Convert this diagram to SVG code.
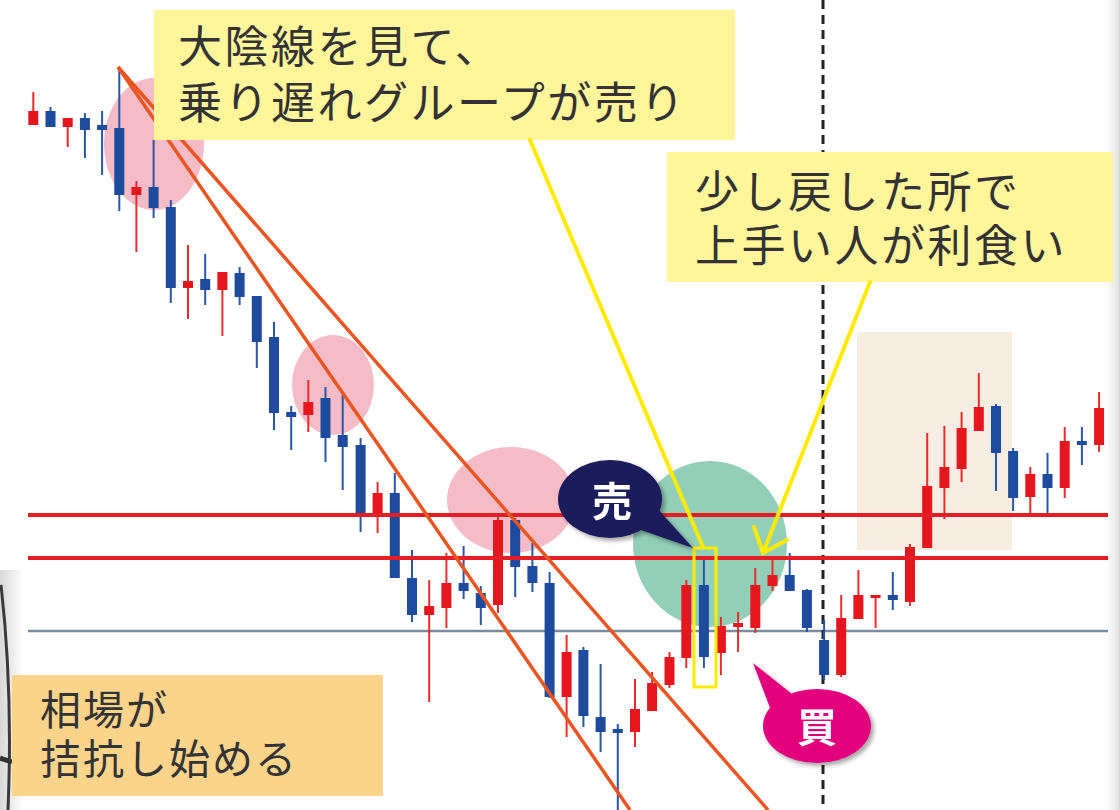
<svg xmlns="http://www.w3.org/2000/svg" width="1119" height="810" viewBox="0 0 1119 810">
<style>
.txt{font-family:"Noto Sans CJK JP","Noto Sans",sans-serif;fill:#333;}
.bub{font-family:"Noto Sans CJK JP","Noto Sans",sans-serif;fill:#fff;font-weight:bold;font-size:40px;text-anchor:middle;}
.r rect{fill:#E6161E;}
.r line{stroke:#EC2B2B;stroke-width:2;}
.b rect{fill:#1F4B9E;}
.b line{stroke:#2A55A8;stroke-width:2;}
.hr{stroke:#E61E24;stroke-width:4;}
.tl{stroke:#EA5520;stroke-width:3.5;fill:none;}
.yl{stroke:#FFEB00;stroke-width:4;fill:none;stroke-linecap:round;}
</style>
<defs>
<filter id="sh" x="-20%" y="-20%" width="150%" height="150%">
<feDropShadow dx="3" dy="3" stdDeviation="2" flood-color="#000" flood-opacity="0.35"/>
</filter>
<linearGradient id="gr" x1="0" y1="0" x2="1" y2="0">
<stop offset="0" stop-color="#fff"/>
<stop offset="1" stop-color="#e2e2e2"/>
</linearGradient>
<linearGradient id="gl" x1="0" y1="0" x2="1" y2="0">
<stop offset="0" stop-color="#d8d8d8"/>
<stop offset="1" stop-color="#fff"/>
</linearGradient>
</defs>
<rect width="1119" height="810" fill="#fff"/>
<rect x="1106" y="0" width="13" height="810" fill="url(#gr)"/>
<rect x="0" y="570" width="24" height="240" fill="url(#gl)"/>
<path d="M1,585 Q13,690 8,810" stroke="#3a3a3a" stroke-width="3" fill="none"/>
<path d="M0,758 L12,762" stroke="#333" stroke-width="5"/>

<g id="zones">
<rect x="857" y="332" width="155" height="218" fill="#F8EDE2"/>
<ellipse cx="154" cy="144" rx="50" ry="66" fill="#F5BCC8"/>
<ellipse cx="333" cy="385" rx="41" ry="50" fill="#F5BCC8"/>
<ellipse cx="511" cy="500" rx="64" ry="53" fill="#F5BCC8"/>
<ellipse cx="710" cy="544" rx="77" ry="83" fill="#93CFB8"/>
</g>

<g id="levels">
<line x1="28" y1="631" x2="1108" y2="631" stroke="#7C8BA0" stroke-width="2.5"/>
<line x1="823" y1="0" x2="823" y2="810" stroke="#222" stroke-width="3" stroke-dasharray="9 6"/>
</g>

<g id="candles">
<g class="r"><line x1="33.3" y1="92" x2="33.3" y2="125"/><rect x="28.3" y="111" width="10" height="14"/></g>
<g class="b"><line x1="50.5" y1="107" x2="50.5" y2="127"/><rect x="45.5" y="111" width="10" height="16"/></g>
<g class="r"><line x1="67.7" y1="118" x2="67.7" y2="147"/><rect x="62.7" y="118" width="10" height="9"/></g>
<g class="b"><line x1="84.9" y1="113" x2="84.9" y2="158"/><rect x="79.9" y="118" width="10" height="12"/></g>
<g class="b"><line x1="102.1" y1="111" x2="102.1" y2="175"/><rect x="97.1" y="125" width="10" height="5"/></g>
<g class="b"><line x1="119.3" y1="68" x2="119.3" y2="211"/><rect x="114.3" y="128" width="10" height="67"/></g>
<g class="r"><line x1="136.4" y1="181" x2="136.4" y2="252"/><rect x="131.4" y="187" width="10" height="8"/></g>
<g class="b"><line x1="153.6" y1="140" x2="153.6" y2="218"/><rect x="148.6" y="187" width="10" height="21"/></g>
<g class="b"><line x1="170.8" y1="200" x2="170.8" y2="303"/><rect x="165.8" y="207" width="10" height="81"/></g>
<g class="r"><line x1="188" y1="245" x2="188" y2="319"/><rect x="183" y="281" width="10" height="7"/></g>
<g class="b"><line x1="205.2" y1="254" x2="205.2" y2="305"/><rect x="200.2" y="279" width="10" height="11"/></g>
<g class="r"><line x1="222.4" y1="272" x2="222.4" y2="336"/><rect x="217.4" y="272" width="10" height="18"/></g>
<g class="b"><line x1="239.6" y1="267" x2="239.6" y2="305"/><rect x="234.6" y="273" width="10" height="24"/></g>
<g class="b"><line x1="256.8" y1="296" x2="256.8" y2="368"/><rect x="251.8" y="296" width="10" height="46"/></g>
<g class="b"><line x1="274" y1="322" x2="274" y2="430"/><rect x="269" y="337" width="10" height="76"/></g>
<g class="b"><line x1="291.2" y1="406" x2="291.2" y2="450"/><rect x="286.2" y="412" width="10" height="5"/></g>
<g class="r"><line x1="308.3" y1="380" x2="308.3" y2="432"/><rect x="303.3" y="402" width="10" height="13"/></g>
<g class="b"><line x1="325.5" y1="387" x2="325.5" y2="462"/><rect x="320.5" y="398" width="10" height="40"/></g>
<g class="b"><line x1="342.7" y1="395" x2="342.7" y2="490"/><rect x="337.7" y="435" width="10" height="12"/></g>
<g class="b"><line x1="360.6" y1="438" x2="360.6" y2="532"/><rect x="355.6" y="445" width="10" height="68"/></g>
<g class="r"><line x1="377.6" y1="482" x2="377.6" y2="533"/><rect x="372.6" y="493" width="10" height="22"/></g>
<g class="b"><line x1="394.8" y1="473" x2="394.8" y2="578"/><rect x="389.8" y="493" width="10" height="85"/></g>
<g class="b"><line x1="412" y1="550" x2="412" y2="622"/><rect x="407" y="578" width="10" height="37"/></g>
<g class="r"><line x1="429.2" y1="580" x2="429.2" y2="702"/><rect x="424.2" y="606" width="10" height="9"/></g>
<g class="r"><line x1="446.4" y1="553" x2="446.4" y2="628"/><rect x="441.4" y="583" width="10" height="25"/></g>
<g class="b"><line x1="463.6" y1="546" x2="463.6" y2="599"/><rect x="458.6" y="583" width="10" height="8"/></g>
<g class="b"><line x1="480.8" y1="586" x2="480.8" y2="625"/><rect x="475.8" y="593" width="10" height="15"/></g>
<g class="r"><line x1="498" y1="517" x2="498" y2="613"/><rect x="493" y="520" width="10" height="85"/></g>
<g class="b"><line x1="515.2" y1="518" x2="515.2" y2="597"/><rect x="510.2" y="520" width="10" height="47"/></g>
<g class="b"><line x1="532.4" y1="543" x2="532.4" y2="592"/><rect x="527.4" y="566" width="10" height="17"/></g>
<g class="b"><line x1="549.6" y1="572" x2="549.6" y2="698"/><rect x="544.6" y="583" width="10" height="114"/></g>
<g class="r"><line x1="566.6" y1="635" x2="566.6" y2="737"/><rect x="561.6" y="652" width="10" height="45"/></g>
<g class="b"><line x1="583.4" y1="647" x2="583.4" y2="727"/><rect x="578.4" y="650" width="10" height="66"/></g>
<g class="b"><line x1="600.6" y1="664" x2="600.6" y2="752"/><rect x="595.6" y="717" width="10" height="15"/></g>
<g class="b"><line x1="617.8" y1="724" x2="617.8" y2="810"/><rect x="612.8" y="729" width="10" height="4"/></g>
<g class="r"><line x1="635" y1="679" x2="635" y2="747"/><rect x="630" y="709" width="10" height="23"/></g>
<g class="r"><line x1="652.1" y1="672" x2="652.1" y2="711"/><rect x="647.1" y="683" width="10" height="28"/></g>
<g class="r"><line x1="669.5" y1="652" x2="669.5" y2="688"/><rect x="664.5" y="657" width="10" height="28"/></g>
<g class="r"><line x1="686.3" y1="580" x2="686.3" y2="668"/><rect x="681.3" y="585" width="10" height="73"/></g>
<g class="b"><line x1="703.9" y1="560" x2="703.9" y2="668"/><rect x="698.9" y="585" width="10" height="72"/></g>
<g class="r"><line x1="720.9" y1="617" x2="720.9" y2="675"/><rect x="715.9" y="626" width="10" height="27"/></g>
<g class="r"><line x1="738.1" y1="612" x2="738.1" y2="652"/><rect x="733.1" y="623" width="10" height="4"/></g>
<g class="r"><line x1="755.3" y1="568" x2="755.3" y2="633"/><rect x="750.3" y="585" width="10" height="43"/></g>
<g class="r"><line x1="772.5" y1="560" x2="772.5" y2="591"/><rect x="767.5" y="575" width="10" height="11"/></g>
<g class="b"><line x1="789.7" y1="553" x2="789.7" y2="591"/><rect x="784.7" y="575" width="10" height="16"/></g>
<g class="b"><line x1="806.9" y1="589" x2="806.9" y2="632"/><rect x="801.9" y="590" width="10" height="38"/></g>
<g class="b"><line x1="824.1" y1="620" x2="824.1" y2="680"/><rect x="819.1" y="640" width="10" height="35"/></g>
<g class="r"><line x1="841.2" y1="595" x2="841.2" y2="677"/><rect x="836.2" y="618" width="10" height="57"/></g>
<g class="r"><line x1="858.4" y1="570" x2="858.4" y2="619"/><rect x="853.4" y="595" width="10" height="24"/></g>
<g class="r"><line x1="875.6" y1="595" x2="875.6" y2="628"/><rect x="870.6" y="595" width="10" height="3"/></g>
<g class="b"><line x1="892.8" y1="572" x2="892.8" y2="610"/><rect x="887.8" y="595" width="10" height="5"/></g>
<g class="r"><line x1="910" y1="544" x2="910" y2="606"/><rect x="905" y="547" width="10" height="55"/></g>
<g class="r"><line x1="927.2" y1="433" x2="927.2" y2="548"/><rect x="922.2" y="486" width="10" height="62"/></g>
<g class="r"><line x1="944.4" y1="426" x2="944.4" y2="519"/><rect x="939.4" y="467" width="10" height="21"/></g>
<g class="r"><line x1="961.6" y1="412" x2="961.6" y2="482"/><rect x="956.6" y="428" width="10" height="41"/></g>
<g class="r"><line x1="978.8" y1="373" x2="978.8" y2="431"/><rect x="973.8" y="407" width="10" height="24"/></g>
<g class="b"><line x1="996" y1="404" x2="996" y2="491"/><rect x="991" y="406" width="10" height="47"/></g>
<g class="b"><line x1="1013.1" y1="448" x2="1013.1" y2="511"/><rect x="1008.1" y="451" width="10" height="47"/></g>
<g class="r"><line x1="1030.3" y1="467" x2="1030.3" y2="513"/><rect x="1025.3" y="474" width="10" height="23"/></g>
<g class="b"><line x1="1047.5" y1="453" x2="1047.5" y2="513"/><rect x="1042.5" y="474" width="10" height="14"/></g>
<g class="r"><line x1="1064.7" y1="427" x2="1064.7" y2="498"/><rect x="1059.7" y="441" width="10" height="47"/></g>
<g class="b"><line x1="1081.9" y1="427" x2="1081.9" y2="465"/><rect x="1076.9" y="441" width="10" height="4"/></g>
<g class="r"><line x1="1099.1" y1="392" x2="1099.1" y2="452"/><rect x="1094.1" y="408" width="10" height="37"/></g>
</g>

<g id="resistance">
<line class="hr" x1="28" y1="515" x2="1108" y2="515"/>
<line class="hr" x1="28" y1="558" x2="1108" y2="558"/>
</g>

<g id="trendlines">
<line class="tl" x1="118" y1="67" x2="630" y2="810"/>
<line class="tl" x1="118" y1="67" x2="768" y2="810"/>
</g>

<rect id="highlight" x="694" y="548" width="22" height="139" fill="none" stroke="#FFEB00" stroke-width="3"/>

<g id="note1">
<rect x="154" y="10" width="581" height="130" fill="#FFF59B"/>
<text class="txt" font-size="44" letter-spacing="2.5"><tspan x="178" y="63">大陰線を見て、</tspan><tspan x="178" y="119">乗り遅れグループが売り</tspan></text>
</g>

<g id="note2">
<rect x="667" y="152" width="446" height="130" fill="#FFF59B"/>
<text class="txt" font-size="44" letter-spacing="2.5"><tspan x="695" y="208">少し戻した所で</tspan><tspan x="695" y="262">上手い人が利食い</tspan></text>
</g>

<g id="note3">
<rect x="12" y="675" width="371" height="121" fill="#FAD48A"/>
<text class="txt" font-size="41" letter-spacing="2"><tspan x="40" y="725">相場が</tspan><tspan x="40" y="774">拮抗し始める</tspan></text>
</g>

<g id="connectors">
<line class="yl" x1="530" y1="140" x2="703" y2="547"/>
<line class="yl" x1="870" y1="282" x2="763" y2="553"/>
<polyline class="yl" points="754,527 763,553 787,540"/>
</g>

<g id="sell" filter="url(#sh)">
<path d="M635,528 L693,548 L657,508 Z" fill="#1B1D5C"/>
<ellipse cx="610" cy="499" rx="52" ry="39" fill="#1B1D5C"/>
<text class="bub" x="612" y="516">売</text>
</g>

<g id="buy" filter="url(#sh)">
<path d="M753,663 L770,708 L792,694 Z" fill="#E2007D"/>
<ellipse cx="817" cy="726" rx="54" ry="37" fill="#E2007D"/>
<text class="bub" x="817" y="742">買</text>
</g>
</svg>
